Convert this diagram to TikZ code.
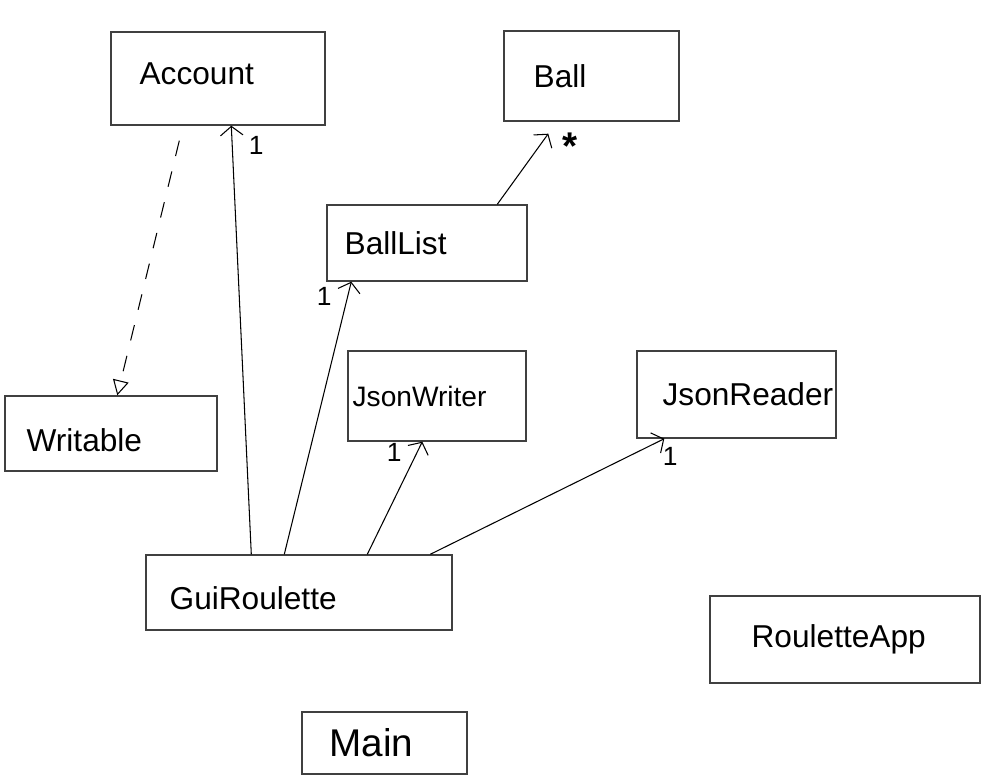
\documentclass[tikz,border=0pt]{standalone}
\usepackage{fontspec}
\setmainfont{Liberation Sans}
\usetikzlibrary{arrows.meta,positioning,calc}

\begin{document}
\begin{tikzpicture}[
  >={Straight Barb[length=1.8mm,width=4.5mm]},
  cls/.style={draw=black!75, line width=0.8pt, inner sep=0pt},
  txt/.style={inner sep=0pt, font=\fontsize{18}{20}\selectfont},
  smalltxt/.style={txt, font=\fontsize{16}{18}\selectfont},
  mult/.style={inner sep=0pt, font=\fontsize{15}{17}\selectfont},
  assoc/.style={->, line width=0.6pt},
  impl/.style={-{Triangle[open,length=3mm,width=3.2mm]}, line width=0.6pt,
               dash pattern=on 9pt off 9pt}
]
\useasboundingbox (0,0) rectangle (19.8,-15.54);

% classes
\node[cls, minimum width=4.28cm, minimum height=1.86cm] (account) at (4.36,-1.57) {};
\node[cls, minimum width=3.5cm,  minimum height=1.8cm]  (ball) at (11.83,-1.52) {};
\node[cls, minimum width=4.0cm,  minimum height=1.52cm] (balllist) at (8.54,-4.86) {};
\node[cls, minimum width=4.24cm, minimum height=1.5cm]  (writable) at (2.22,-8.67) {};
\node[cls, minimum width=3.56cm, minimum height=1.8cm]  (jsonwriter) at (8.74,-7.92) {};
\node[cls, minimum width=3.98cm, minimum height=1.74cm] (jsonreader) at (14.73,-7.89) {};
\node[cls, minimum width=6.12cm, minimum height=1.5cm]  (gui) at (5.98,-11.85) {};
\node[cls, minimum width=5.4cm,  minimum height=1.74cm] (app) at (16.9,-12.79) {};
\node[cls, minimum width=3.3cm,  minimum height=1.24cm] (main) at (7.69,-14.86) {};

% names
\node[txt, right=0.58cm of account.west, yshift=1mm] (accountTxt) {Account};
\node[txt, right=0.6cm of ball.west] (ballTxt) {Ball};
\node[txt, right=0.36cm of balllist.west] (balllistTxt) {BallList};
\node[txt, right=0.44cm of writable.west, yshift=-1.4mm] (writableTxt) {Writable};
\node[smalltxt, right=0.1cm of jsonwriter.west] (jsonwriterTxt) {JsonWriter};
\node[txt, right=0.52cm of jsonreader.west] (jsonreaderTxt) {JsonReader};
\node[txt, right=0.48cm of gui.west, yshift=-1.2mm] (guiTxt) {GuiRoulette};
\node[txt, right=0.84cm of app.west] (appTxt) {RouletteApp};
\node[txt, font=\fontsize{22}{24}\selectfont, right=0.56cm of main.west] (mainTxt) {Main};

% associations
\draw[assoc] ($(gui.north west)+(2.12,0)$) -- ($(account.south west)+(2.42,0)$);
\draw[assoc] ($(gui.north west)+(2.78,0)$) -- ($(balllist.south west)+(0.5,0)$);
\draw[assoc] ($(gui.north west)+(4.44,0)$) -- ($(jsonwriter.south west)+(1.5,0)$);
\draw[assoc] ($(gui.north west)+(5.7,0)$) -- ($(jsonreader.south west)+(0.56,0)$);
\draw[assoc] ($(balllist.north west)+(3.42,0)$) -- ($(ball.south west)+(0.9,-0.24)$);
\draw[impl] ($(account.south west)+(1.38,-0.3)$) -- ($(writable.north west)+(2.26,0)$);

% multiplicities
\node[mult] (mAccount) at ($(account.south west)+(2.92,-0.4)$) {1};
\node[mult, font=\fontsize{22}{22}\selectfont\bfseries] (mBall) at ($(ball.south west)+(1.34,-0.5)$) {*};
\node[mult] (mBallList) at ($(balllist.south west)+(-0.04,-0.3)$) {1};
\node[mult] (mWriter) at ($(jsonwriter.south west)+(0.94,-0.22)$) {1};
\node[mult] (mReader) at ($(jsonreader.south west)+(0.68,-0.36)$) {1};

\end{tikzpicture}
\end{document}
